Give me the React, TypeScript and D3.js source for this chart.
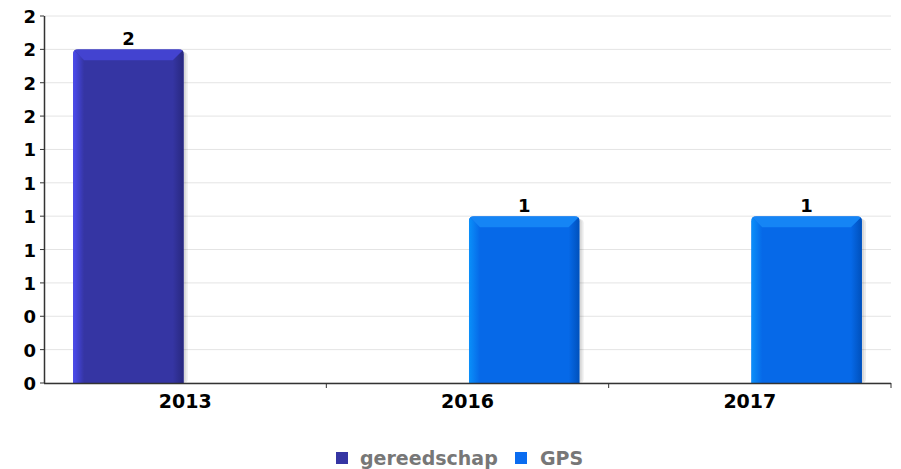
import React from "react";
import * as d3 from "d3";

const categories = ["2013", "2016", "2017"];
const seriesNames = ["gereedschap", "GPS"];
const gereedschapValues = [2, 0, 0];
const gpsValues = [0, 1, 1];
const yTickValues = [0, 0.2, 0.4, 0.6, 0.8, 1.0, 1.2, 1.4, 1.6, 1.8, 2.0, 2.2];

const W = 901;
const H = 469;
const M = { left: 44, right: 10, top: 16, bottom: 86 };

const palette: Record<string, { main: string; light: string; dark: string; top: string; legend: string }> = {
  gereedschap: { main: "#3535a3", light: "#4b4bf0", dark: "#28287e", top: "#4343d0", legend: "#3535a3" },
  GPS: { main: "#0669e8", light: "#0a90fa", dark: "#0050bb", top: "#1585f5", legend: "#0a6cf0" },
};

export default function App() {
  const x0 = d3.scaleBand<string>().domain(categories).range([M.left, W - M.right]).padding(0);
  const bw = x0.bandwidth();
  const x1 = d3
    .scaleBand<string>()
    .domain(seriesNames)
    .range([bw * 0.103, bw * 0.897])
    .paddingInner(0.025);
  const y = d3.scaleLinear().domain([0, 2.2]).range([H - M.bottom, M.top]);
  const fmt = d3.format(".0f");
  const y0 = y(0);

  const seriesData: { name: string; values: number[] }[] = [
    { name: "gereedschap", values: gereedschapValues },
    { name: "GPS", values: gpsValues },
  ];

  const font = "'DejaVu Sans', Verdana, sans-serif";

  const bars: React.ReactNode[] = [];
  seriesData.forEach((s) => {
    const c = palette[s.name];
    s.values.forEach((v, i) => {
      if (!v) return;
      const bx = (x0(categories[i]) as number) + (x1(s.name) as number);
      const w = x1.bandwidth();
      const top = y(v);
      const h = y0 - top;
      const r = 5;
      const bev = 11;
      const key = `${s.name}-${i}`;
      const outline = `M${bx},${y0} L${bx},${top + r} Q${bx},${top} ${bx + r},${top} L${bx + w - r},${top} Q${bx + w},${top} ${bx + w},${top + r} L${bx + w},${y0} Z`;
      bars.push(
        <g key={key}>
          <defs>
            <linearGradient id={`lg-${key}`} x1="0" x2="1" y1="0" y2="0">
              <stop offset="0" stopColor={c.light} />
              <stop offset="1" stopColor={c.main} />
            </linearGradient>
            <linearGradient id={`rg-${key}`} x1="0" x2="1" y1="0" y2="0">
              <stop offset="0" stopColor={c.main} />
              <stop offset="1" stopColor={c.dark} />
            </linearGradient>
            <clipPath id={`cp-${key}`}>
              <path d={outline} />
            </clipPath>
          </defs>
          <rect x={bx + 2} y={top + 3} width={w + 2} height={h - 3} fill="#000" opacity={0.08} rx={4} />
          <rect x={bx + 1} y={top + 2} width={w + 1} height={h - 2} fill="#000" opacity={0.08} rx={4} />
          <g clipPath={`url(#cp-${key})`}>
            <rect x={bx} y={top} width={w} height={h} fill={c.main} />
            <polygon points={`${bx},${top} ${bx + bev},${top + bev} ${bx + bev},${y0} ${bx},${y0}`} fill={`url(#lg-${key})`} />
            <polygon points={`${bx + w},${top} ${bx + w - bev},${top + bev} ${bx + w - bev},${y0} ${bx + w},${y0}`} fill={`url(#rg-${key})`} />
            <polygon points={`${bx},${top} ${bx + w},${top} ${bx + w - bev},${top + bev} ${bx + bev},${top + bev}`} fill={c.top} />
          </g>
          <text x={bx + w / 2} y={top - 4} textAnchor="middle" fontFamily={font} fontWeight="bold" fontSize={18} fill="#000">
            {fmt(v)}
          </text>
        </g>
      );
    });
  });

  return (
    <svg width={W} height={H} style={{ position: "absolute", left: 0, top: 0, background: "#fff" }}>
      <rect width={W} height={H} fill="#fff" />
      {yTickValues.map((t) => (
        <line key={`g${t}`} x1={M.left} x2={W - M.right} y1={y(t)} y2={y(t)} stroke="#e4e4e4" strokeWidth={1} />
      ))}
      {bars}
      <line x1={M.left} x2={W - M.right} y1={y0 + 0.5} y2={y0 + 0.5} stroke="#333" strokeWidth={1.5} />
      <line x1={M.left + 0.5} x2={M.left + 0.5} y1={M.top} y2={y0} stroke="#333" strokeWidth={1.5} />
      {yTickValues.map((t) => (
        <g key={`t${t}`}>
          <line x1={M.left - 4} x2={M.left} y1={y(t)} y2={y(t)} stroke="#333" />
          <text x={M.left - 8} y={y(t) + 7} textAnchor="end" fontFamily={font} fontWeight="bold" fontSize={18} fill="#000">
            {fmt(t)}
          </text>
        </g>
      ))}
      {categories.slice(1).map((c) => (
        <line key={`ct${c}`} x1={x0(c)} x2={x0(c)} y1={y0} y2={y0 + 5} stroke="#333" />
      ))}
      <line x1={W - M.right} x2={W - M.right} y1={y0} y2={y0 + 5} stroke="#333" />
      {categories.map((c) => (
        <text key={`xl${c}`} x={(x0(c) as number) + bw / 2} y={y0 + 25} textAnchor="middle" fontFamily={font} fontWeight="bold" fontSize={19} fill="#000">
          {c}
        </text>
      ))}
      <g>
        <rect x={336} y={452} width={12} height={12} fill={palette.gereedschap.legend} />
        <text x={360} y={465} fontFamily={font} fontWeight="bold" fontSize={19} fill="#777">
          {seriesNames[0]}
        </text>
        <rect x={515} y={452} width={12} height={12} fill={palette.GPS.legend} />
        <text x={540} y={465} fontFamily={font} fontWeight="bold" fontSize={19} fill="#777">
          {seriesNames[1]}
        </text>
      </g>
    </svg>
  );
}
